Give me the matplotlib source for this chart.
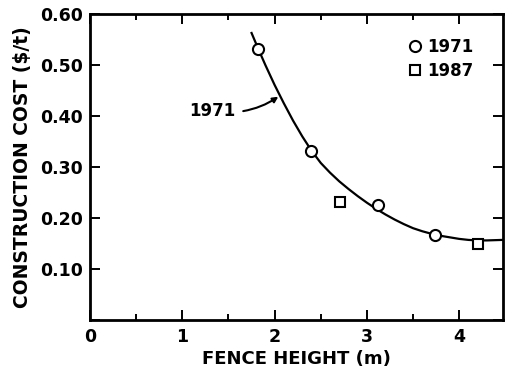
import matplotlib.pyplot as plt
import numpy as np

# data
height_1971 = [1.82, 2.39, 3.12, 3.74]
cost_1971 = [0.532, 0.332, 0.226, 0.167]
height_1987 = [2.71, 4.20]
cost_1987 = [0.232, 0.149]

# fitted 1971 curve
curve_x = [1.75, 1.82, 1.9, 2.0, 2.1, 2.2, 2.3, 2.4, 2.5, 2.6, 2.7, 2.8, 2.9, 3.0,
           3.1, 3.2, 3.3, 3.4, 3.5, 3.6, 3.7, 3.8, 3.9, 4.0, 4.1, 4.2, 4.3, 4.47]
curve_y = [0.563, 0.533, 0.500, 0.461, 0.425, 0.391, 0.360, 0.332, 0.308, 0.289, 0.272, 0.257, 0.243, 0.230,
           0.218, 0.207, 0.197, 0.188, 0.180, 0.174, 0.169, 0.165, 0.162, 0.159, 0.157, 0.156, 0.156, 0.157]

xticks = [0, 1, 2, 3, 4]
yticks = [0.10, 0.20, 0.30, 0.40, 0.50, 0.60]

plt.rcParams['font.family'] = 'DejaVu Sans'
plt.rcParams['font.weight'] = 'bold'

fig = plt.figure(figsize=(5.06, 3.72), dpi=100)
ax = fig.add_axes([0.178, 0.140, 0.817, 0.822])

ax.plot(curve_x, curve_y, color='black', linewidth=1.6, zorder=2)
ax.plot(height_1971, cost_1971, 'o', ms=8, mfc='white', mec='black', mew=1.5, label='1971', zorder=3)
ax.plot(height_1987, cost_1987, 's', ms=7, mfc='white', mec='black', mew=1.5, label='1987', zorder=3)

# curve label with curved arrow
ax.annotate('1971', xy=(2.04, 0.438), xytext=(1.57, 0.41), ha='right', va='center',
            fontsize=12, fontweight='bold',
            arrowprops=dict(arrowstyle='-|>', color='black', lw=1.5,
                            connectionstyle='arc3,rad=0.2', shrinkA=4, shrinkB=0,
                            mutation_scale=8))

ax.set_xlim(0, 4.48)
ax.set_ylim(0, 0.60)
ax.set_xticks(xticks)
ax.set_xticks([0.5, 1.5, 2.5, 3.5], minor=True)
ax.set_yticks([0.0] + yticks)
ax.set_yticklabels([''] + ['%.2f' % v for v in yticks])

ax.tick_params(which='both', direction='in', top=True, right=True, labelsize=12.5, width=1.4)
ax.tick_params(which='major', length=7)
ax.tick_params(which='minor', length=4)
ax.tick_params(axis='x', pad=6)
ax.tick_params(axis='y', pad=5)
for lbl in ax.get_xticklabels() + ax.get_yticklabels():
    lbl.set_fontweight('bold')

for sp in ax.spines.values():
    sp.set_linewidth(2.0)

ax.set_xlabel('FENCE HEIGHT (m)', fontsize=13, fontweight='bold', labelpad=3)
ax.set_ylabel('CONSTRUCTION COST ($/t)', fontsize=13.5, fontweight='bold', labelpad=6)

ax.legend(loc='upper left', bbox_to_anchor=(0.75, 0.95), frameon=False,
          handlelength=0.8, handletextpad=0.3, borderpad=0, labelspacing=0.35,
          prop={'weight': 'bold', 'size': 12})

fig.savefig('out.png', dpi=100)
